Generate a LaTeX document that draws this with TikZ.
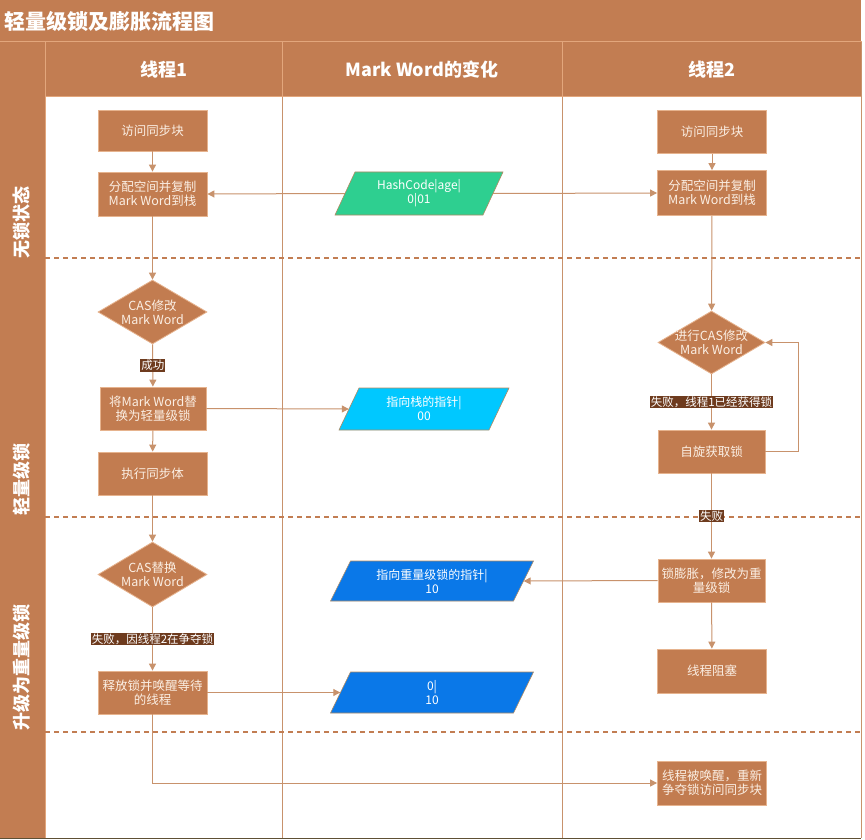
\documentclass[tikz,border=0pt]{standalone}
\usepackage{fontspec}
\setmainfont{Noto Sans CJK SC}
\usetikzlibrary{shapes.geometric,arrows.meta}
\definecolor{brn}{HTML}{C27D52}
\definecolor{brnlight}{HTML}{E2A67C}
\definecolor{boxfill}{HTML}{C27C50}
\definecolor{boxedge}{HTML}{E6B38E}
\definecolor{linec}{HTML}{C8926C}
\definecolor{cream}{HTML}{FBEFE4}
\definecolor{labbg}{HTML}{6E3B1E}
\definecolor{pgreen}{HTML}{2ECF90}
\definecolor{pcyan}{HTML}{00C8FF}
\definecolor{pblue}{HTML}{0A78E8}
\definecolor{pedge}{HTML}{B08A62}
\definecolor{bottomc}{HTML}{5E5035}
\newcommand\mwpara[7]{%
  \filldraw[fill=#6,draw=pedge,line width=0.6pt] ({#2-#4+10},{#3-#5}) -- ({#2+#4+10},{#3-#5}) -- ({#2+#4-10},{#3+#5}) -- ({#2-#4-10},{#3+#5}) -- cycle;
  \node[ptext,minimum width={2*#4}] (#1) at (#2,#3) {#7};}
\begin{document}
\begin{tikzpicture}[x=1pt,y=-1pt,
  box/.style={rectangle,fill=boxfill,draw=boxedge,line width=0.8pt,minimum width=109pt,minimum height=43pt,inner sep=0pt,text=cream,align=center,font=\fontsize{12.5}{14}\selectfont},
  dia/.style={diamond,fill=boxfill,draw=boxedge,line width=0.8pt,minimum width=109pt,minimum height=64pt,inner sep=0pt},
  dtext/.style={text=cream,align=center,inner sep=0pt,font=\fontsize{12.5}{14}\selectfont},
  ptext/.style={rectangle,inner sep=0pt,minimum height=40pt,align=center,text=white,font=\fontsize{12}{14}\selectfont},
  lab/.style={fill=labbg,text=white,inner sep=1pt,font=\fontsize{11.5}{13}\selectfont},
  conn/.style={draw=linec,line width=1pt},
  arr/.style={conn,-{Triangle[length=7pt,width=7pt]}},
  sep/.style={draw=brn,line width=2.8pt,dash pattern=on 5pt off 4pt},
  lane/.style={text=white,font=\fontsize{18}{20}\selectfont\bfseries,rotate=90,inner sep=0pt},
  head/.style={text=white,font=\fontsize{18}{20}\selectfont\bfseries,inner sep=0pt},
]
\useasboundingbox (0,0) rectangle (865,840);
\fill[white] (0,0) rectangle (865,840);
% title and header
\fill[brn] (0,0) rectangle (861,97);
\fill[brn] (0,97) rectangle (45,838);
\draw[brnlight,line width=1pt] (0,42) -- (861,42);
\draw[brnlight,line width=1pt] (45,42) rectangle (282,97);
\draw[brnlight,line width=1pt] (282,42) rectangle (562,97);
\draw[brnlight,line width=1pt] (562,42) rectangle (861,97);
\draw[brnlight,line width=1pt] (45,97) -- (45,838);
\node[anchor=west,text=white,font=\fontsize{21}{23}\selectfont\bfseries,inner sep=0pt] (title) at (4,21) {轻量级锁及膨胀流程图};
\node[head] (h1) at (163.5,70) {线程1};
\node[head] (h2) at (422,70) {Mark Word的变化};
\node[head] (h3) at (712,70) {线程2};
% lane grid
\draw[linec,line width=0.8pt] (282,97) -- (282,838);
\draw[linec,line width=0.8pt] (562,97) -- (562,838);
\draw[linec,line width=0.8pt] (861,42) -- (861,838);
\draw[bottomc,line width=1pt] (0,838) -- (861,838);
\draw[sep] (45,258) -- (861,258);
\draw[sep] (45,517) -- (861,517);
\draw[sep] (45,732) -- (861,732);
\node[lane] (l1) at (22,222) {无锁状态};
\node[lane] (l2) at (22,479) {轻量级锁};
\node[lane] (l3) at (22,667) {升级为重量级锁};
% thread 1
\node[box,minimum height=41pt] (t1a) at (152.5,130.5) {访问同步块};
\node[box,minimum height=44pt] (t1b) at (152.5,194) {分配空间并复制\\Mark Word到栈};
\node[dia] (d1) at (152.5,312) {};
\node[dtext] (d1t) at (d1) {CAS修改\\Mark Word};
\node[box,minimum width=106pt] (t1c) at (153,408.5) {将Mark Word替\\换为轻量级锁};
\node[box] (t1d) at (152.5,473.5) {执行同步体};
\node[dia,minimum height=65pt] (d2) at (152.5,574.5) {};
\node[dtext] (d2t) at (d2) {CAS替换\\Mark Word};
\node[box] (t1e) at (152.5,692.5) {释放锁并唤醒等待\\的线程};
% thread 2
\node[box] (t2a) at (712,132) {访问同步块};
\node[box,minimum height=45pt] (t2b) at (712,193) {分配空间并复制\\Mark Word到栈};
\node[dia,minimum width=107pt,minimum height=63pt] (d3) at (711.5,342.5) {};
\node[dtext] (d3t) at (d3) {进行CAS修改\\Mark Word};
\node[box,minimum width=107pt] (t2c) at (711.5,451.5) {自旋获取锁};
\node[box,minimum width=107pt] (t2d) at (711.5,580.5) {锁膨胀，修改为重\\量级锁};
\node[box,minimum height=44pt] (t2e) at (712,671) {线程阻塞};
\node[box,minimum height=44pt] (t2f) at (712,783) {线程被唤醒，重新\\争夺锁访问同步块};
% mark word
\mwpara{p1}{419}{193.5}{74}{21.5}{pgreen}{HashCode|age|\\0|01}
\mwpara{p2}{424}{409}{75}{21}{pcyan}{指向栈的指针|\\00}
\mwpara{p3}{432}{581}{91.5}{20}{pblue}{指向重量级锁的指针|\\10}
\mwpara{p4}{432}{692.5}{91.5}{20.5}{pblue}{0|\\10}
% connectors
\draw[arr] (t1a) -- (t1b);
\draw[arr] (p1.west) -- (t1b.east);
\draw[arr] (p1.east) -- (t2b.west);
\draw[arr] (t1b) -- (d1);
\draw[arr] (d1) -- node[lab] (lb1) {成功} (t1c);
\draw[arr] (t1c.east) -- (p2.west);
\draw[arr] (t1c) -- (t1d);
\draw[arr] (t1d) -- (d2);
\draw[arr] (d2) -- node[lab] (lb2) {失败，因线程2在争夺锁} (t1e);
\draw[arr] (t1e.east) -- (p4.west);
\draw[arr] (t1e.south) |- (t2f.west);
\draw[arr] (t2a) -- (t2b);
\draw[arr] (t2b) -- (d3);
\draw[arr] (d3) -- node[lab] (lb3) {失败，线程1已经获得锁} (t2c);
\draw[arr] (t2c.east) -- ++(33,0) |- (d3.east);
\draw[arr] (t2c) -- node[lab] (lb4) {失败} (t2d);
\draw[arr] (t2d.west) -- (p3.east);
\draw[arr] (t2d) -- (t2e);
\end{tikzpicture}
\end{document}
